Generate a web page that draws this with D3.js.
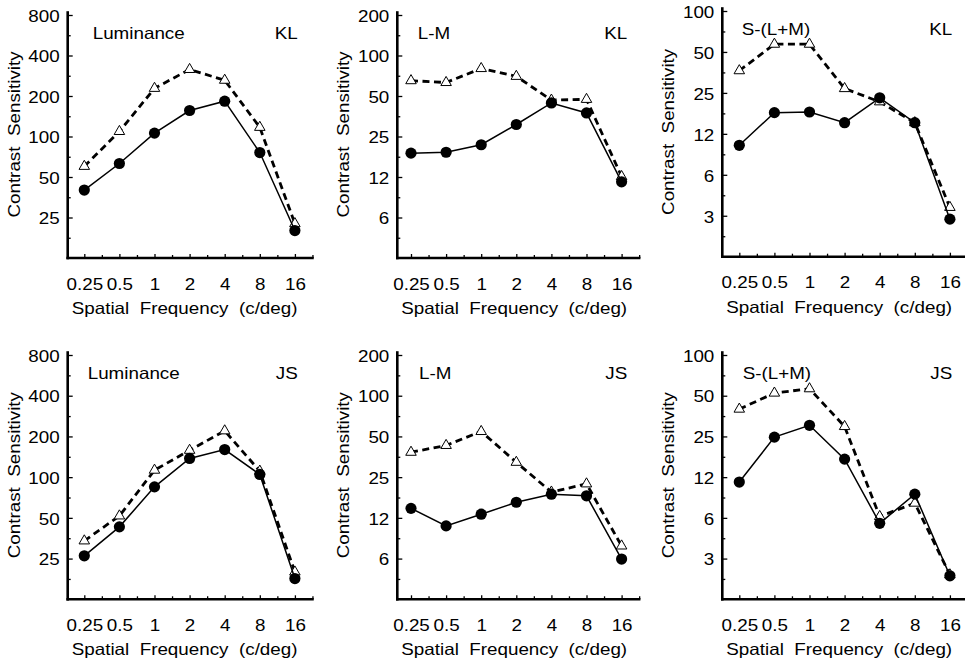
<!DOCTYPE html>
<html>
<head>
<meta charset="utf-8">
<script src="https://cdn.jsdelivr.net/npm/d3@7"></script>
<style>
  body { margin: 0; background: #fff; }
  text { font-family: "Liberation Sans", Arial, sans-serif; font-size: 16.5px; fill: #000; }
</style>
</head>
<body>
<svg id="chart" width="965" height="662"></svg>
<script>
// spatial frequencies (c/deg)
const freqs = [0.25, 0.5, 1, 2, 4, 8, 16];
const freqLabels = ["0.25", "0.5", "1", "2", "4", "8", "16"];

const conditions = ["Luminance", "L-M", "S-(L+M)"];
const observers = ["KL", "JS"];

// y axis ticks per condition
const lumTicks = [25, 50, 100, 200, 400, 800];
const lumTickLabels = ["25", "50", "100", "200", "400", "800"];
const lmTicks = [6.25, 12.5, 25, 50, 100, 200];
const lmTickLabels = ["6", "12", "25", "50", "100", "200"];
const sTicks = [3.125, 6.25, 12.5, 25, 50, 100];
const sTickLabels = ["3", "6", "12", "25", "50", "100"];

// contrast sensitivity, filled circles (solid) and open triangles (dashed)
const klLumCircle = [40, 63, 106, 156, 183, 76, 20];
const klLumTri = [60, 109, 228, 315, 262, 117, 22.5];
const klLmCircle = [18.8, 19.1, 21.7, 30.7, 44.4, 37.4, 11.5];
const klLmTri = [65, 63, 80, 70, 46.6, 47.2, 12.6];
const klSCircle = [10.3, 17.9, 18.1, 15.1, 23, 15.1, 2.95];
const klSTri = [36.4, 57, 57, 26.9, 21.5, 15.1, 3.6];

const jsLumCircle = [26.2, 42.9, 84.8, 137.5, 160, 104.7, 17.8];
const jsLumTri = [33.8, 51.7, 112.6, 158, 220, 110.8, 19.9];
const jsLmCircle = [14.7, 10.9, 13.3, 16.3, 18.7, 18.2, 6.2];
const jsLmTri = [38.2, 42.9, 54.4, 32.2, 19.4, 22.3, 7.75];
const jsSCircle = [11.5, 24.7, 30.2, 17, 5.7, 9.36, 2.33];
const jsSTri = [39.8, 52.3, 56.3, 29.6, 6.4, 8.03, 2.37];

const panels = [
  { cond: 0, obs: 0, ticks: lumTicks, labels: lumTickLabels, circ: klLumCircle, tri: klLumTri },
  { cond: 1, obs: 0, ticks: lmTicks, labels: lmTickLabels, circ: klLmCircle, tri: klLmTri },
  { cond: 2, obs: 0, ticks: sTicks, labels: sTickLabels, circ: klSCircle, tri: klSTri },
  { cond: 0, obs: 1, ticks: lumTicks, labels: lumTickLabels, circ: jsLumCircle, tri: jsLumTri },
  { cond: 1, obs: 1, ticks: lmTicks, labels: lmTickLabels, circ: jsLmCircle, tri: jsLmTri },
  { cond: 2, obs: 1, ticks: sTicks, labels: sTickLabels, circ: jsSCircle, tri: jsSTri },
];

// layout
const axisX = [67.7, 397.3, 722.3];
const x25 = [84.3, 411, 739.3]; // pixel of 0.25 c/deg
const octave = 35.1;
const rowTop = [[15, 15, 11], [355, 355, 355]];
const rowBot = [[258, 258, 256.7], [599.3, 599.3, 599.3]];
const titleDx = [[25, 20.5, 19.5], [20, 21.7, 20.4]];
const K = 1.14; // horizontal text stretch

const svg = d3.select("#chart");
svg.append("rect").attr("width", 965).attr("height", 662).attr("fill", "#fff");

function widen(sel) {
  sel.each(function () {
    const w = this.getComputedTextLength();
    if (w > 0) d3.select(this).attr("textLength", w * K).attr("lengthAdjust", "spacingAndGlyphs");
  });
}

panels.forEach((p) => {
  const c = p.cond, r = p.obs;
  const ax = axisX[c];
  const top = rowTop[r][c], bot = rowBot[r][c];
  const lo = p.ticks[0] / 2, hi = p.ticks[p.ticks.length - 1];

  const x = d3.scaleLog().base(2)
    .domain([0.25 / Math.SQRT2, 16 * Math.SQRT2])
    .range([x25[c] - octave / 2, x25[c] + octave * 6.5]);
  const y = d3.scaleLog().base(2).domain([lo, hi]).range([bot, top]);

  const g = svg.append("g");

  // y axis: major + minor ticks pointing inward
  const yMinor = p.ticks.map((v) => v / Math.SQRT2);
  g.append("g").attr("transform", `translate(${ax},0)`)
    .call(d3.axisLeft(y).tickValues(yMinor).tickSize(-3).tickSizeOuter(0).tickFormat(""))
    .call((s) => s.select(".domain").remove());
  const yAx = g.append("g").attr("transform", `translate(${ax},0)`)
    .call(d3.axisLeft(y).tickValues(p.ticks).tickSize(-5).tickSizeOuter(0).tickPadding(8)
      .tickFormat((d, i) => p.labels[i]));
  yAx.select(".domain").attr("d", `M0,${bot}V${top - 2.5}`);
  yAx.selectAll("text").attr("dy", "0.38em");

  // x axis
  const xMinor = freqs.map((f) => f * Math.SQRT2);
  g.append("g").attr("transform", `translate(0,${bot})`)
    .call(d3.axisBottom(x).tickValues(xMinor).tickSize(-3).tickSizeOuter(0).tickFormat(""))
    .call((s) => s.select(".domain").remove());
  const xAx = g.append("g").attr("transform", `translate(0,${bot})`)
    .call(d3.axisBottom(x).tickValues(freqs).tickSize(-4).tickSizeOuter(0).tickPadding(20)
      .tickFormat((d, i) => freqLabels[i]));
  xAx.select(".domain").attr("d", `M${ax},0H${x.range()[1]}`);

  g.selectAll(".domain").attr("stroke", "#000").attr("stroke-width", 2.6).attr("stroke-linecap", "square");
  g.selectAll(".tick line").attr("stroke", "#000").attr("stroke-width", 1.3);
  g.selectAll(".tick text").attr("font-family", null).attr("font-size", null).attr("fill", "#000");
  widen(g.selectAll(".tick text"));

  // titles
  g.append("text").attr("x", ax + titleDx[r][c]).attr("y", top + 23.5).text(conditions[c]).call(widen);
  g.append("text").attr("x", ax + 230).attr("y", top + 23.5).attr("text-anchor", "end")
    .text(observers[r]).call(widen);

  g.append("text").style("white-space", "pre")
    .attr("transform", `translate(${ax - 48},${(top + bot) / 2 - 2}) rotate(-90)`)
    .attr("text-anchor", "middle").text("Contrast  Sensitivity").call(widen);
  g.append("text").style("white-space", "pre")
    .attr("x", ax + 4).attr("y", bot + 56)
    .text("Spatial  Frequency  (c/deg)").call(widen);

  // dashed series with open triangles
  const triLine = d3.line().x((d, i) => x(freqs[i])).y((d) => y(d));
  g.append("path").datum(p.tri).attr("d", triLine)
    .attr("fill", "none").attr("stroke", "#000").attr("stroke-width", 2.8)
    .attr("stroke-dasharray", "7,4.5");
  g.selectAll(".tri").data(p.tri).enter().append("path")
    .attr("d", d3.symbol(d3.symbolTriangle, 48))
    .attr("transform", (d, i) => `translate(${x(freqs[i])},${y(d)})`)
    .attr("fill", "#fff").attr("stroke", "#000").attr("stroke-width", 1);

  // solid series with filled circles
  g.append("path").datum(p.circ).attr("d", triLine)
    .attr("fill", "none").attr("stroke", "#000").attr("stroke-width", 1.5);
  g.selectAll(".dot").data(p.circ).enter().append("circle")
    .attr("cx", (d, i) => x(freqs[i])).attr("cy", (d) => y(d)).attr("r", 5.6)
    .attr("fill", "#000");
});
</script>
</body>
</html>
